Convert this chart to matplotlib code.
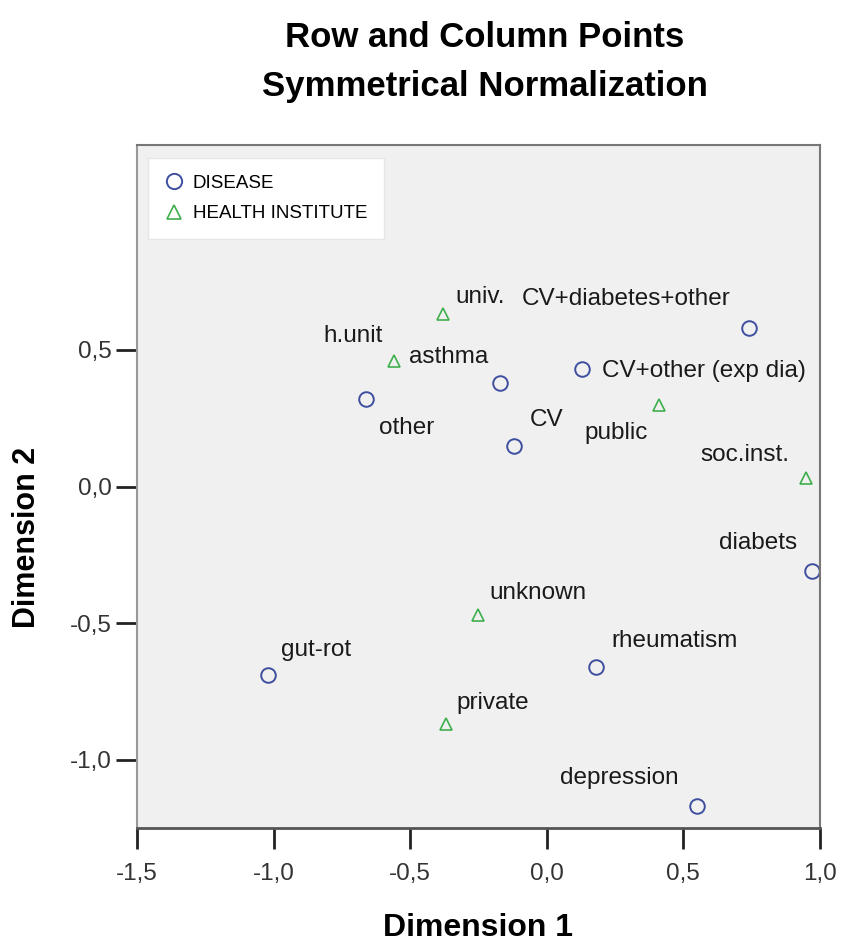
import matplotlib
matplotlib.use('Agg')
import matplotlib.pyplot as plt
from matplotlib.ticker import FuncFormatter
from matplotlib.lines import Line2D

plt.rcParams['font.family'] = ['Liberation Sans', 'DejaVu Sans']

# row points (DISEASE)
disease_names = ['CV+diabetes+other', 'CV+other (exp dia)', 'asthma', 'other', 'CV',
                 'diabets', 'rheumatism', 'gut-rot', 'depression']
disease_x = [0.74, 0.13, -0.17, -0.66, -0.12, 0.97, 0.18, -1.02, 0.55]
disease_y = [0.58, 0.43, 0.38, 0.32, 0.15, -0.31, -0.66, -0.69, -1.17]

# column points (HEALTH INSTITUTE)
inst_names = ['univ.', 'h.unit', 'public', 'soc.inst.', 'unknown', 'private']
inst_x = [-0.38, -0.56, 0.41, 0.95, -0.25, -0.37]
inst_y = [0.63, 0.46, 0.30, 0.03, -0.47, -0.87]

x_ticks = [-1.5, -1.0, -0.5, 0.0, 0.5, 1.0]
y_ticks = [-1.0, -0.5, 0.0, 0.5]

# label offsets in pixels from each point
disease_off = [(-123, 29), (122, -2), (-52, 26), (40, -29), (33, 26),
               (-54, 28), (79, 26), (48, 25), (-78, 28)]
inst_off = [(37, 17), (-41, 25), (-43, -28), (-61, 23), (60, 22), (47, 21)]

c_dis = '#3f4fa0'
c_inst = '#3fae4c'

fig = plt.figure(figsize=(8.43, 9.42), dpi=100)
ax = fig.add_axes([0.1625, 0.121, 0.810, 0.725])
ax.set_facecolor('#f0f0f0')

ax.plot(disease_x, disease_y, 'o', ms=10.5, mfc='none', mec=c_dis, mew=1.4, ls='none')
ax.plot(inst_x, inst_y, '^', ms=9, mfc='none', mec=c_inst, mew=1.2, ls='none')

for n, x, y, o in zip(disease_names, disease_x, disease_y, disease_off):
    ax.annotate(n, (x, y), xytext=o, textcoords='offset pixels', ha='center', va='center',
                fontsize=17.5, color='#1a1a1a')
for n, x, y, o in zip(inst_names, inst_x, inst_y, inst_off):
    ax.annotate(n, (x, y), xytext=o, textcoords='offset pixels', ha='center', va='center',
                fontsize=17.5, color='#1a1a1a')

ax.set_xlim(-1.5, 1.0)
ax.set_ylim(-1.25, 1.25)
ax.set_xticks(x_ticks)
ax.set_yticks(y_ticks)
fmt = FuncFormatter(lambda v, p: ('%.1f' % v).replace('.', ','))
ax.xaxis.set_major_formatter(fmt)
ax.yaxis.set_major_formatter(fmt)
ax.tick_params(length=15, width=2, labelsize=17.5, labelcolor='#333333', color='#222222')
ax.tick_params(axis='x', pad=10)
ax.tick_params(axis='y', pad=3)

for s in ['top', 'right']:
    ax.spines[s].set_color('#777777')
    ax.spines[s].set_linewidth(1.5)
ax.spines['left'].set_color('#999999')
ax.spines['left'].set_linewidth(1.5)
ax.spines['bottom'].set_color('#555555')
ax.spines['bottom'].set_linewidth(2)

ax.set_xlabel('Dimension 1', fontsize=23, fontweight='bold', labelpad=20)
ax.set_ylabel('Dimension 2', fontsize=22, fontweight='bold')
ax.yaxis.set_label_coords(-0.139, 0.426)

handles = [Line2D([], [], marker='o', ls='none', ms=11, mfc='none', mec=c_dis, mew=1.4),
           Line2D([], [], marker='^', ls='none', ms=10, mfc='none', mec=c_inst, mew=1.2)]
leg = ax.legend(handles, ['DISEASE', 'HEALTH INSTITUTE'], loc='upper left',
                bbox_to_anchor=(0.016, 0.981), borderaxespad=0, fontsize=13.5,
                fancybox=False, framealpha=1, edgecolor='#e6e6e6', handletextpad=0.5,
                handlelength=1.0, labelspacing=0.7, borderpad=0.9)

fig.text(0.575, 0.950, 'Row and Column Points', ha='center', va='baseline',
         fontsize=25, fontweight='bold')
fig.text(0.575, 0.898, 'Symmetrical Normalization', ha='center', va='baseline',
         fontsize=25, fontweight='bold')

fig.savefig('out.png', dpi=100, facecolor='white')
